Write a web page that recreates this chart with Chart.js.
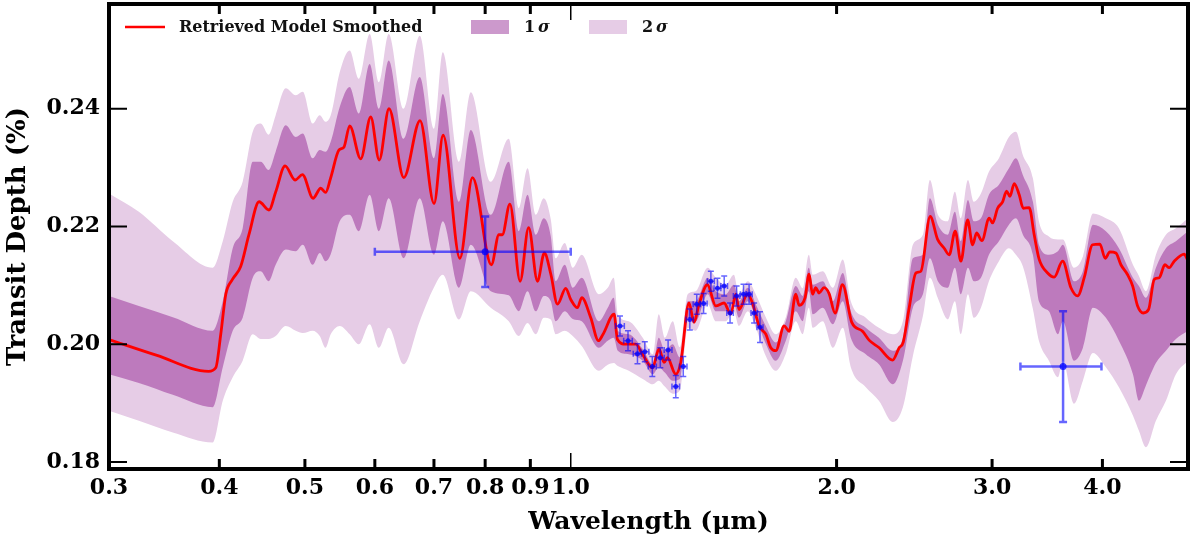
<!DOCTYPE html>
<html>
<head>
<meta charset="utf-8">
<script src="https://cdn.jsdelivr.net/npm/chart.js@4.4.1/dist/chart.umd.min.js"></script>
<style>
  html, body { margin: 0; padding: 0; background: #fff; }
  #wrap { width: 1192px; height: 540px; }
</style>
</head>
<body>
<div id="wrap"><canvas id="spectrum" width="1192" height="540"></canvas></div>
<script>
const xTicks = [0.3, 0.4, 0.5, 0.6, 0.7, 0.8, 0.9, 1.0, 2.0, 3.0, 4.0];
const yTicks = [0.18, 0.20, 0.22, 0.24];

// smoothed retrieved model (wavelength in micron, transit depth in %)
const modelWl = [0.30, 0.34, 0.389, 0.3963, 0.4015, 0.4068, 0.4139, 0.4229, 0.4321, 0.4437,
  0.4553, 0.4634, 0.4748, 0.4873, 0.4968, 0.5107, 0.5211, 0.5278, 0.5346, 0.5465,
  0.5536, 0.5619, 0.5783, 0.5936, 0.6069, 0.6226, 0.6471, 0.6751, 0.7002, 0.7169,
  0.7490, 0.7740, 0.8131, 0.8292, 0.8365, 0.8533, 0.8763, 0.8960, 0.9169, 0.9335,
  0.9497, 0.9659, 0.9870, 1.0, 1.0176, 1.0291, 1.0535, 1.0749, 1.0879, 1.1196,
  1.1295, 1.1541, 1.1848, 1.2057, 1.2374, 1.2589, 1.2755, 1.2868, 1.3148, 1.3321,
  1.3612, 1.3791, 1.3972, 1.4282, 1.4596, 1.4915, 1.5178, 1.5377, 1.5510, 1.5853,
  1.6061, 1.6340, 1.6629, 1.6847, 1.7068, 1.7442, 1.7671, 1.7981, 1.8137, 1.8423,
  1.8616, 1.8782, 1.8945, 1.9108, 1.9359, 1.9613, 1.9922, 2.0310, 2.0809, 2.1398,
  2.1769, 2.2350, 2.3144, 2.3546, 2.3793, 2.4168, 2.4594, 2.4917, 2.5529, 2.6026,
  2.6478, 2.6826, 2.7249, 2.7657, 2.8145, 2.8514, 2.8813, 2.9213, 2.9775, 3.0040,
  3.0435, 3.0835, 3.1158, 3.1427, 3.1781, 3.2198, 3.2535, 3.3048, 3.3481, 3.3921,
  3.4672, 3.5274, 3.6055, 3.6845, 3.7494, 3.8145, 3.8989, 3.9738, 4.0291, 4.0787,
  4.1431, 4.1975, 4.2715, 4.3276, 4.3844, 4.4489, 4.5120, 4.5785, 4.6385, 4.7080,
  4.7610, 4.8235, 4.9508, 5.0];
const modelDepth = [0.2008, 0.1981, 0.1954, 0.1960, 0.2017, 0.2085, 0.2110, 0.2132, 0.2186, 0.2242,
  0.2228, 0.2259, 0.2303, 0.2279, 0.2288, 0.2248, 0.2265, 0.2258, 0.2282, 0.2330,
  0.2335, 0.2371, 0.2315, 0.2386, 0.2313, 0.2400, 0.2283, 0.2380, 0.2239, 0.2355,
  0.2146, 0.2283, 0.2135, 0.2186, 0.2186, 0.2238, 0.2107, 0.2198, 0.2107, 0.2155,
  0.2118, 0.2068, 0.2095, 0.2076, 0.2062, 0.2079, 0.2045, 0.2006, 0.2017, 0.2051,
  0.2008, 0.2000, 0.2000, 0.1983, 0.1960, 0.1992, 0.1969, 0.1977, 0.1949, 0.1969,
  0.2070, 0.2037, 0.2068, 0.2101, 0.2065, 0.2070, 0.2051, 0.2085, 0.2059, 0.2085,
  0.2070, 0.2031, 0.2017, 0.1994, 0.1989, 0.2031, 0.2022, 0.2085, 0.2066, 0.2079,
  0.2119, 0.2085, 0.2096, 0.2087, 0.2096, 0.2086, 0.2053, 0.2101, 0.2037, 0.2022,
  0.2007, 0.1994, 0.1973, 0.1994, 0.2003, 0.2062, 0.2121, 0.2124, 0.2217, 0.2178,
  0.2163, 0.2152, 0.2192, 0.2141, 0.2211, 0.2169, 0.2189, 0.2176, 0.2214, 0.2206,
  0.2231, 0.2242, 0.2260, 0.2251, 0.2273, 0.2254, 0.2231, 0.2232, 0.2186, 0.2144,
  0.2121, 0.2114, 0.2141, 0.2096, 0.2082, 0.2113, 0.2169, 0.2170, 0.2146, 0.2157,
  0.2155, 0.2135, 0.2118, 0.2099, 0.2065, 0.2053, 0.2059, 0.2110, 0.2113, 0.2135,
  0.2130, 0.2141, 0.2153, 0.2141];

// confidence envelopes, all sampled on bandWl
const bandWl = [0.30, 0.3243, 0.3543, 0.3932, 0.4036, 0.4142, 0.4251, 0.4364, 0.4456, 0.4549,
  0.4633, 0.4756, 0.4882, 0.4972, 0.5103, 0.5197, 0.5276, 0.5348, 0.5475, 0.5619,
  0.5753, 0.5920, 0.6061, 0.6221, 0.6469, 0.6746, 0.6997, 0.7163, 0.7469, 0.7706,
  0.8118, 0.8507, 0.8732, 0.8935, 0.9129, 0.9320, 0.9493, 0.9615, 0.9844, 1.0052,
  1.0291, 1.0758, 1.1013, 1.1186, 1.1304, 1.1634, 1.2065, 1.2384, 1.2579, 1.2778,
  1.3047, 1.3286, 1.3566, 1.3851, 1.4293, 1.4596, 1.4982, 1.5298, 1.5499, 1.5866,
  1.6201, 1.6629, 1.7068, 1.7520, 1.7981, 1.8313, 1.8602, 1.8797, 1.9294, 1.9804,
  2.0326, 2.0755, 2.1584, 2.2332, 2.3162, 2.3774, 2.4402, 2.5047, 2.5508, 2.6046,
  2.6735, 2.7228, 2.7657, 2.8168, 2.8612, 2.9140, 2.9753, 3.0539, 3.1346, 3.1922,
  3.2511, 3.3367, 3.3894, 3.4790, 3.5616, 3.6083, 3.7135, 3.8016, 3.9020, 4.0365,
  4.1757, 4.3310, 4.3993, 4.4804, 4.5988, 4.7203, 4.8447, 5.0];
const sig2Hi = [0.2256, 0.2225, 0.2175, 0.2130, 0.2175, 0.2242, 0.2276, 0.2361, 0.2375, 0.2356,
  0.2389, 0.2435, 0.2423, 0.2429, 0.2375, 0.2389, 0.2378, 0.2389, 0.2462, 0.2499,
  0.2451, 0.2527, 0.2445, 0.2527, 0.2400, 0.2524, 0.2366, 0.2496, 0.2310, 0.2428,
  0.2276, 0.2349, 0.2231, 0.2299, 0.2220, 0.2248, 0.2212, 0.2146, 0.2172, 0.2130,
  0.2152, 0.2085, 0.2096, 0.2113, 0.2051, 0.2039, 0.2011, 0.1983, 0.2051, 0.2011,
  0.2039, 0.1995, 0.2085, 0.2090, 0.2130, 0.2113, 0.2101, 0.2118, 0.2085, 0.2107,
  0.2085, 0.2046, 0.2017, 0.2046, 0.2113, 0.2095, 0.2152, 0.2118, 0.2124, 0.2096,
  0.2144, 0.2073, 0.2045, 0.2028, 0.2017, 0.2039, 0.2169, 0.2186, 0.2279, 0.2220,
  0.2209, 0.2259, 0.2214, 0.2279, 0.2242, 0.2256, 0.2293, 0.2316, 0.2352, 0.2361,
  0.2321, 0.2282, 0.2209, 0.2183, 0.2178, 0.2178, 0.2130, 0.2149, 0.2222, 0.2214,
  0.2197, 0.2135, 0.2116, 0.2090, 0.2152, 0.2186, 0.2197, 0.2214];
const sig1Hi = [0.2082, 0.2065, 0.2046, 0.2023, 0.2073, 0.2163, 0.2197, 0.2310, 0.2310, 0.2296,
  0.2327, 0.2372, 0.2352, 0.2358, 0.2316, 0.2330, 0.2327, 0.2344, 0.2403, 0.2437,
  0.2392, 0.2476, 0.2400, 0.2482, 0.2349, 0.2454, 0.2316, 0.2425, 0.2242, 0.2364,
  0.2220, 0.2310, 0.2192, 0.2254, 0.2186, 0.2214, 0.2183, 0.2107, 0.2135, 0.2096,
  0.2113, 0.2039, 0.2062, 0.2079, 0.2023, 0.2017, 0.1992, 0.1966, 0.2011, 0.1989,
  0.2000, 0.1978, 0.2073, 0.2073, 0.2113, 0.2090, 0.2085, 0.2101, 0.2073, 0.2096,
  0.2068, 0.2031, 0.2003, 0.2039, 0.2099, 0.2082, 0.2130, 0.2101, 0.2107, 0.2073,
  0.2121, 0.2056, 0.2028, 0.2011, 0.1989, 0.2011, 0.2146, 0.2152, 0.2248, 0.2203,
  0.2186, 0.2225, 0.2175, 0.2245, 0.2209, 0.2214, 0.2254, 0.2271, 0.2299, 0.2316,
  0.2287, 0.2242, 0.2169, 0.2152, 0.2158, 0.2169, 0.2107, 0.2124, 0.2203, 0.2192,
  0.2163, 0.2113, 0.2099, 0.2079, 0.2130, 0.2163, 0.2175, 0.2192];
const sig1Lo = [0.1949, 0.1934, 0.1914, 0.1893, 0.1961, 0.2023, 0.2045, 0.2113, 0.2124, 0.2107,
  0.2135, 0.2161, 0.2158, 0.2169, 0.2135, 0.2155, 0.2141, 0.2153, 0.2209, 0.2220,
  0.2192, 0.2254, 0.2192, 0.2248, 0.2146, 0.2248, 0.2152, 0.2209, 0.2096, 0.2169,
  0.2090, 0.2083, 0.2056, 0.2090, 0.2056, 0.2082, 0.2073, 0.2039, 0.2056, 0.2043,
  0.2039, 0.1994, 0.2006, 0.2011, 0.1989, 0.1983, 0.1972, 0.1949, 0.1961, 0.1952,
  0.1938, 0.1941, 0.2045, 0.2039, 0.2085, 0.2056, 0.2056, 0.2070, 0.2045, 0.2073,
  0.2045, 0.2001, 0.1972, 0.2006, 0.2056, 0.2039, 0.2090, 0.2051, 0.2062, 0.2034,
  0.2073, 0.2011, 0.1983, 0.1966, 0.1932, 0.1972, 0.2062, 0.2085, 0.2146, 0.2107,
  0.2096, 0.2130, 0.2085, 0.2130, 0.2107, 0.2113, 0.2152, 0.2175, 0.2203, 0.2214,
  0.2186, 0.2152, 0.2073, 0.2056, 0.2017, 0.2039, 0.1972, 0.1994, 0.2062, 0.2045,
  0.2006, 0.1949, 0.1904, 0.1930, 0.1968, 0.1989, 0.2009, 0.2023];
const sig2Lo = [0.1887, 0.1870, 0.1850, 0.1833, 0.1904, 0.1944, 0.1972, 0.2017, 0.2009, 0.2009,
  0.2014, 0.2031, 0.2023, 0.2019, 0.2023, 0.2014, 0.1994, 0.2017, 0.2031, 0.2017,
  0.2000, 0.2034, 0.1994, 0.2028, 0.1966, 0.2039, 0.2096, 0.2118, 0.2042, 0.2090,
  0.2062, 0.2039, 0.2014, 0.2036, 0.2017, 0.2045, 0.2042, 0.2017, 0.2023, 0.2014,
  0.1997, 0.1955, 0.1965, 0.1968, 0.1963, 0.1955, 0.1941, 0.1932, 0.1938, 0.1928,
  0.1916, 0.1921, 0.2028, 0.2023, 0.2068, 0.2039, 0.2039, 0.2056, 0.2031, 0.2056,
  0.2028, 0.1980, 0.1955, 0.1984, 0.2039, 0.2017, 0.2062, 0.2028, 0.2039, 0.1994,
  0.2028, 0.1961, 0.1927, 0.1904, 0.1868, 0.1893, 0.1980, 0.2048, 0.2113, 0.2078,
  0.2042, 0.2073, 0.2017, 0.2085, 0.2045, 0.2062, 0.2107, 0.2141, 0.2163, 0.2152,
  0.2132, 0.2060, 0.2006, 0.1972, 0.1944, 0.1972, 0.1899, 0.1938, 0.1985, 0.1961,
  0.1927, 0.1879, 0.1853, 0.1825, 0.1870, 0.1904, 0.1949, 0.1972];

// observed points with errors
const obsWl = [0.80, 1.137, 1.161, 1.190, 1.213, 1.237, 1.263, 1.289, 1.315, 1.341, 1.364, 1.389,
  1.414, 1.441, 1.466, 1.492, 1.515, 1.541, 1.569, 1.592, 1.613, 1.638, 3.61];
const obsDepth = [0.2157, 0.2031, 0.2006, 0.1984, 0.1987, 0.1962, 0.1977, 0.1990, 0.1928, 0.1962, 0.2042, 0.2068,
  0.2069, 0.2107, 0.2095, 0.2099, 0.2053, 0.2082, 0.2085, 0.2085, 0.2053, 0.2029, 0.1962];
const obsErr = [0.0060, 0.0017, 0.0017, 0.0017, 0.0017, 0.0017, 0.0017, 0.0017, 0.0019, 0.0017, 0.0018, 0.0017,
  0.0017, 0.0017, 0.0017, 0.0017, 0.0017, 0.0017, 0.0017, 0.0017, 0.0017, 0.0026, 0.0094];
const obsWlErr = [0.20, 0.013, 0.013, 0.013, 0.013, 0.013, 0.013, 0.013, 0.013, 0.013, 0.013, 0.013,
  0.013, 0.013, 0.013, 0.013, 0.013, 0.013, 0.013, 0.013, 0.013, 0.013, 0.38];

const serif = "'DejaVu Serif', serif";
const light = '#E6CCE6';
const dark = '#BD7ABD';
const barBlue = 'rgba(0, 0, 255, 0.6)';

function pts(xs, ys) {
    return xs.map((w, i) => ({ x: w, y: ys[i] }));
}

const errorBars = {
    id: 'errorBars',
    afterDatasetsDraw(chart) {
        const { ctx, scales: { x, y } } = chart;
        ctx.save();
        ctx.strokeStyle = barBlue;
        obsWl.forEach((w, i) => {
            const wide = obsWlErr[i] > 0.1;
            const px = x.getPixelForValue(w);
            const py = y.getPixelForValue(obsDepth[i]);
            const top = y.getPixelForValue(obsDepth[i] + obsErr[i]);
            const bot = y.getPixelForValue(obsDepth[i] - obsErr[i]);
            const lft = x.getPixelForValue(w - obsWlErr[i]);
            const rgt = x.getPixelForValue(w + obsWlErr[i]);
            const cap = wide ? 4 : 3;
            ctx.lineWidth = wide ? 2.5 : 1.5;
            ctx.beginPath();
            ctx.moveTo(px, top); ctx.lineTo(px, bot);
            ctx.moveTo(px - cap, top); ctx.lineTo(px + cap, top);
            ctx.moveTo(px - cap, bot); ctx.lineTo(px + cap, bot);
            ctx.moveTo(lft, py); ctx.lineTo(rgt, py);
            ctx.moveTo(lft, py - cap); ctx.lineTo(lft, py + cap);
            ctx.moveTo(rgt, py - cap); ctx.lineTo(rgt, py + cap);
            ctx.stroke();
        });
        ctx.restore();
    }
};

const frameAndLegend = {
    id: 'frameAndLegend',
    afterDraw(chart) {
        const { ctx, chartArea: a, scales: { x, y } } = chart;
        ctx.save();
        ctx.strokeStyle = '#000';

        // inward ticks on all four sides
        ctx.lineWidth = 2;
        yTicks.forEach(v => {
            const py = y.getPixelForValue(v);
            ctx.beginPath();
            ctx.moveTo(a.left, py); ctx.lineTo(a.left + 18, py);
            ctx.moveTo(a.right, py); ctx.lineTo(a.right - 18, py);
            ctx.stroke();
        });
        xTicks.forEach(v => {
            if (v === 0.3) return;
            const px = x.getPixelForValue(v);
            const len = v === 1.0 ? 16 : 10;
            ctx.lineWidth = v === 1.0 ? 1.5 : 3;
            ctx.beginPath();
            ctx.moveTo(px, a.bottom); ctx.lineTo(px, a.bottom - len);
            ctx.moveTo(px, a.top); ctx.lineTo(px, a.top + len);
            ctx.stroke();
        });

        ctx.lineWidth = 4;
        ctx.strokeRect(a.left, a.top, a.right - a.left, a.bottom - a.top);

        // legend inside the top of the plot
        ctx.strokeStyle = '#FF0000';
        ctx.lineWidth = 2.5;
        ctx.beginPath();
        ctx.moveTo(125, 27); ctx.lineTo(165, 27);
        ctx.stroke();
        ctx.fillStyle = '#CC99CC';
        ctx.fillRect(471, 20, 38, 14);
        ctx.fillStyle = light;
        ctx.fillRect(589, 20, 38, 14);

        ctx.fillStyle = '#111';
        ctx.textBaseline = 'middle';
        ctx.font = 'bold 16px ' + serif;
        ctx.fillText('Retrieved Model Smoothed', 179, 28);
        ctx.fillText('1', 524, 28);
        ctx.fillText('2', 642, 28);
        ctx.font = 'italic bold 16px ' + serif;
        ctx.fillText('σ', 538, 28);
        ctx.fillText('σ', 656, 28);
        ctx.restore();
    }
};

const ctx = document.getElementById('spectrum').getContext('2d');
new Chart(ctx, {
    type: 'line',
    data: {
        datasets: [
            { label: '2σ', data: pts(bandWl, sig2Hi), fill: '+1', backgroundColor: light, borderWidth: 0, borderColor: 'rgba(0,0,0,0)', pointRadius: 0, cubicInterpolationMode: 'monotone', order: 4 },
            { label: '2σ low', data: pts(bandWl, sig2Lo), fill: false, borderWidth: 0, borderColor: 'rgba(0,0,0,0)', pointRadius: 0, cubicInterpolationMode: 'monotone', order: 4 },
            { label: '1σ', data: pts(bandWl, sig1Hi), fill: '+1', backgroundColor: dark, borderWidth: 0, borderColor: 'rgba(0,0,0,0)', pointRadius: 0, cubicInterpolationMode: 'monotone', order: 3 },
            { label: '1σ low', data: pts(bandWl, sig1Lo), fill: false, borderWidth: 0, borderColor: 'rgba(0,0,0,0)', pointRadius: 0, cubicInterpolationMode: 'monotone', order: 3 },
            { label: 'Retrieved Model Smoothed', data: pts(modelWl, modelDepth), fill: false, borderColor: '#FF0000', borderWidth: 2.8, pointRadius: 0, cubicInterpolationMode: 'monotone', order: 2 },
            {
                type: 'scatter', label: 'Data', data: pts(obsWl, obsDepth), showLine: false,
                backgroundColor: 'rgba(0, 0, 255, 0.75)', borderWidth: 0,
                pointRadius: c => obsWlErr[c.dataIndex] > 0.1 ? 3.5 : 2.5, order: 1
            }
        ]
    },
    options: {
        responsive: false,
        animation: false,
        layout: { padding: { top: 2, right: 4, left: 0, bottom: 0 } },
        plugins: { legend: { display: false }, tooltip: { enabled: false } },
        scales: {
            x: {
                type: 'logarithmic', min: 0.3, max: 5.0,
                afterBuildTicks: s => { s.ticks = xTicks.map(v => ({ value: v })); },
                afterFit: s => { s.height = 71; s.paddingLeft = 0; s.paddingRight = 0; },
                grid: { display: false, drawTicks: false },
                border: { display: false },
                ticks: {
                    autoSkip: false, maxRotation: 0, minRotation: 0, padding: 6, color: '#000',
                    font: { family: serif, size: 22, weight: 'bold' },
                    callback: v => Number(v).toFixed(1)
                },
                title: { display: true, text: 'Wavelength (μm)', color: '#000', font: { family: serif, size: 25, weight: 'bold' }, padding: { top: 0, bottom: 3 } }
            },
            y: {
                min: 0.1788, max: 0.2578,
                afterBuildTicks: s => { s.ticks = yTicks.map(v => ({ value: v })); },
                afterFit: s => { s.width = 109; s.paddingTop = 0; s.paddingBottom = 0; },
                grid: { display: false, drawTicks: false },
                border: { display: false },
                ticks: {
                    padding: 9, color: '#000',
                    font: { family: serif, size: 22, weight: 'bold' },
                    callback: v => Number(v).toFixed(2)
                },
                title: { display: true, text: 'Transit Depth (%)', color: '#000', font: { family: serif, size: 26, weight: 'bold' }, padding: { top: 3, bottom: 0 } }
            }
        }
    },
    plugins: [errorBars, frameAndLegend]
});
</script>
</body>
</html>
